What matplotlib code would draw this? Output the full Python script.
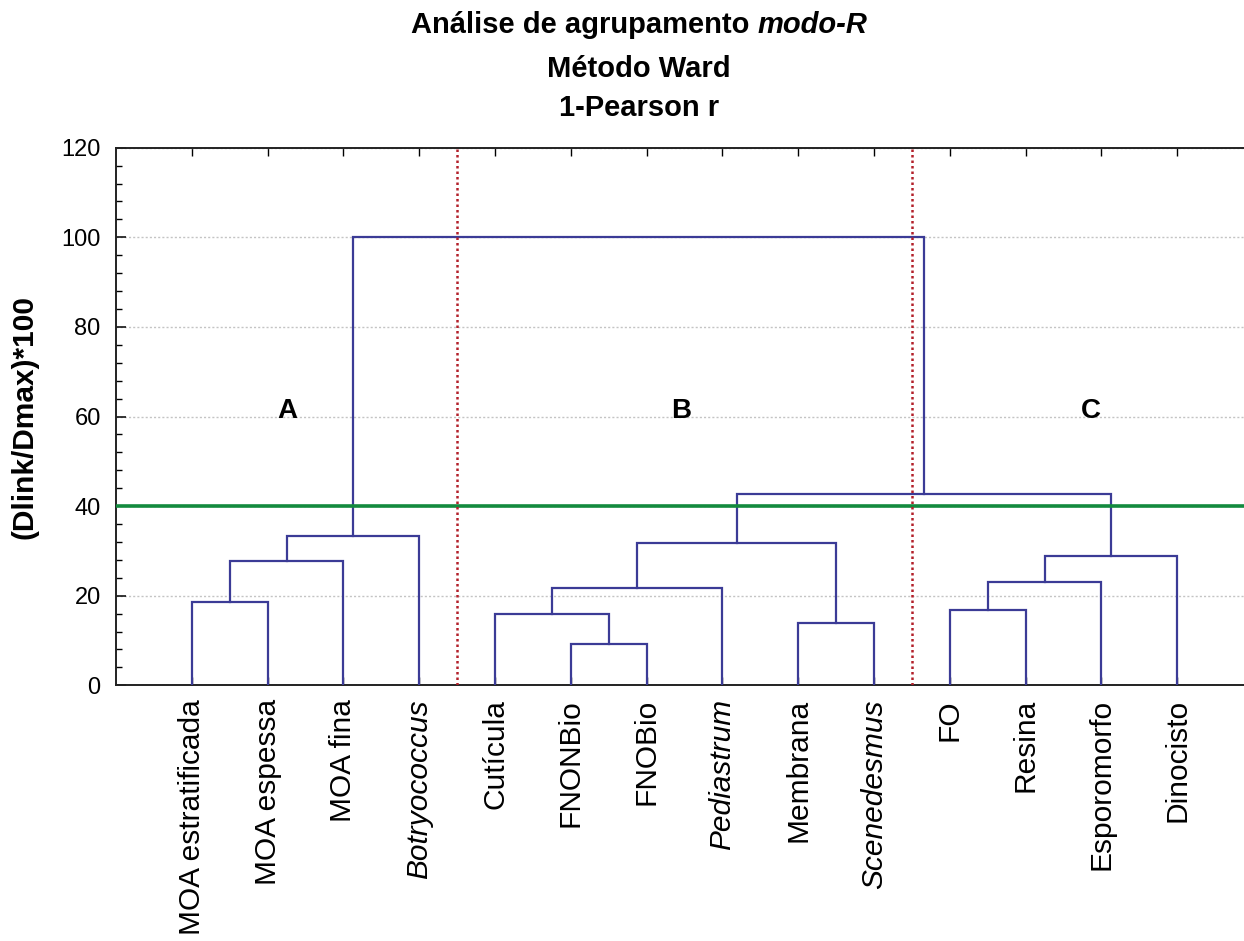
import numpy as np
import matplotlib
matplotlib.use('Agg')
import matplotlib.pyplot as plt
from matplotlib.ticker import MultipleLocator

plt.rcParams['font.family'] = ['Liberation Sans', 'DejaVu Sans']

labels = ['MOA estratificada', 'MOA espessa', 'MOA fina', 'Botryococcus',
          'Cutícula', 'FNONBio', 'FNOBio', 'Pediastrum', 'Membrana',
          'Scenedesmus', 'FO', 'Resina', 'Esporomorfo', 'Dinocisto']
italic_labels = ['Botryococcus', 'Pediastrum', 'Scenedesmus']

# merges: (left cluster, right cluster, height); leaves are 0..13, new clusters 14..
merge_left = [0, 14, 15, 5, 4, 18, 8, 19, 10, 22, 23, 21, 16]
merge_right = [1, 2, 3, 6, 17, 7, 9, 20, 11, 12, 13, 24, 25]
merge_height = [18.7, 27.7, 33.4, 9.2, 15.9, 21.8, 13.9, 31.8, 16.7, 23.0, 28.8, 42.6, 100.0]

cut_level = 40
group_names = ['A', 'B', 'C']
group_x = [2.26, 7.45, 12.86]
group_sep = [4.5, 10.5]

fig = plt.figure(figsize=(12.44, 9.41), dpi=100)
ax = fig.add_axes([116 / 1244, (941 - 685.3) / 941, (1253 - 116) / 1244, (685.3 - 147.7) / 941])

n = len(labels)
leaf_pos = np.arange(1, n + 1)
xpos = {i: float(leaf_pos[i]) for i in range(n)}
ypos = {i: 0.0 for i in range(n)}

line_col = '#3b3b96'
for k in range(len(merge_left)):
    a, b, h = merge_left[k], merge_right[k], merge_height[k]
    ax.plot([xpos[a], xpos[a], xpos[b], xpos[b]], [ypos[a], h, h, ypos[b]],
            color=line_col, lw=1.6, solid_joinstyle='miter', zorder=3)
    xpos[n + k] = (xpos[a] + xpos[b]) / 2
    ypos[n + k] = h

ax.axhline(cut_level, color='#138a3e', lw=2.6, zorder=4)
for s in group_sep:
    ax.axvline(s, color='#b3202a', lw=1.8, ls=(0, (1, 1.2)), zorder=4)

for g, gx in zip(group_names, group_x):
    ax.text(gx, 59.6, g, ha='center', va='baseline', fontsize=20, fontweight='bold', zorder=5)

ax.set_xlim(0, 15)
ax.set_ylim(0, 120)
ax.yaxis.set_major_locator(MultipleLocator(20))
ax.yaxis.set_minor_locator(MultipleLocator(4))
ax.set_xticks(leaf_pos)
ax.set_xticklabels(labels, rotation=90, fontsize=21.5)
for t in ax.get_xticklabels():
    if t.get_text() in italic_labels:
        t.set_fontstyle('italic')
ax.tick_params(axis='y', which='major', direction='in', length=7, width=1.1, labelsize=17, pad=11, colors='black')
ax.tick_params(axis='y', which='minor', direction='in', length=4, width=1.0)
ax.tick_params(axis='x', which='major', direction='in', length=6, width=1.0, pad=10, top=True)
ax.tick_params(axis='y', right=False, which='both')
ax.grid(axis='y', which='major', color='#c4c4c4', ls=(0, (1.5, 1.5)), lw=1.0, zorder=0)
for sp in ax.spines.values():
    sp.set_linewidth(1.4)
    sp.set_color('#222222')

fig.text(25 / 1244, 1 - 417 / 941, '(Dlink/Dmax)*100', rotation=90, ha='center', va='center',
         fontsize=21.5, fontweight='bold')

# title, first line has an italic part
t1 = fig.text(0, 1 - 33 / 941, 'Análise de agrupamento ', ha='left', va='baseline', fontsize=21, fontweight='bold')
t2 = fig.text(0, 1 - 33 / 941, 'modo-R', ha='left', va='baseline', fontsize=21, fontweight='bold', fontstyle='italic')
fig.canvas.draw()
r = fig.canvas.get_renderer()
w1 = t1.get_window_extent(r).width
w2 = t2.get_window_extent(r).width
x0 = 639 - (w1 + w2) / 2
t1.set_x(x0 / 1244)
t2.set_x((x0 + w1) / 1244)
fig.text(639 / 1244, 1 - 77 / 941, 'Método Ward', ha='center', va='baseline', fontsize=21, fontweight='bold')
fig.text(639 / 1244, 1 - 116 / 941, '1-Pearson r', ha='center', va='baseline', fontsize=21, fontweight='bold')

fig.savefig('out.png', dpi=100)
